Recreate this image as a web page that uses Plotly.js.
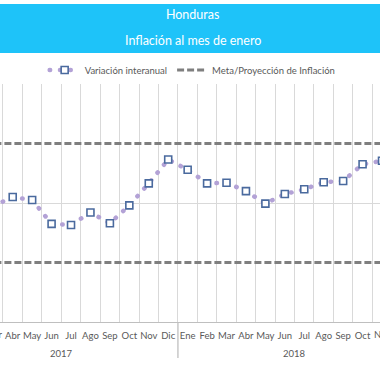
<!DOCTYPE html>
<html>
<head>
<meta charset="utf-8">
<script src="https://cdn.plot.ly/plotly-3.0.1.min.js"></script>
<style>
  html, body { margin: 0; padding: 0; background: #ffffff; }
  #chart { width: 380px; height: 380px; }
</style>
</head>
<body>
<div id="chart"></div>
<script>
// ---- data ----
const monthNames = ['Ene','Feb','Mar','Abr','May','Jun','Jul','Ago','Sep','Oct','Nov','Dic'];
const years = ['2017', '2018'];
// interannual inflation (%) (Ene/Feb 2017 and Dic 2018 are outside the view)
const inflation2017 = [null, null, 3.95, 4.10, 4.05, 3.65, 3.63, 3.84, 3.66, 3.96, 4.33, 4.73];
const inflation2018 = [4.56, 4.33, 4.34, 4.20, 3.99, 4.15, 4.23, 4.35, 4.37, 4.65, 4.71, null];
// inflation target band (upper / lower), from first to last month
const metaUpper = [5.0, 5.0];
const metaLower = [3.0, 3.0];

// ---- build ----
const labels = [];
const idx = [];
years.forEach((y, yi) => monthNames.forEach((m, mi) => { labels.push(m); idx.push(yi * 12 + mi); }));
const inflation = inflation2017.concat(inflation2018);
const metaX = [idx[0], idx[idx.length - 1]];

const FONT = 'Lato, "Liberation Sans", sans-serif';
const plotTop = 84, plotBottom = 322, plotH = plotBottom - plotTop;
const py = p => (plotBottom - p) / plotH;   // pixel row -> paper y
const xRange = [2.346, 21.896];
const px = v => (v - xRange[0]) / (xRange[1] - xRange[0]);  // data x -> paper x

const traces = [
  {
    x: metaX, y: metaUpper, type: 'scatter', mode: 'lines',
    name: 'Meta/Proyección de Inflación', legendgroup: 'meta',
    line: { color: '#7F7F7F', width: 2.8, dash: '7px,3px' },
    hoverinfo: 'skip'
  },
  {
    x: metaX, y: metaLower, type: 'scatter', mode: 'lines',
    name: 'Meta/Proyección de Inflación', legendgroup: 'meta', showlegend: false,
    line: { color: '#7F7F7F', width: 2.8, dash: '7px,3px' },
    hoverinfo: 'skip'
  },
  {
    x: idx, y: inflation, type: 'scatter', mode: 'lines+markers',
    name: 'Variación interanual',
    line: { color: '#B3A2D6', width: 4.5, dash: '0.5px,9.8px' },
    marker: { symbol: 'square', size: 7, color: '#FFFFFF', line: { color: '#4A6A9E', width: 1.6 } }
  }
];

const shapes = [
  { type: 'rect', xref: 'paper', yref: 'paper', x0: 0, x1: 1, y0: py(53), y1: py(4),
    fillcolor: '#1EC3F9', line: { width: 0 }, layer: 'below' }
];
const annotations = [
  { text: 'Inflación al mes de enero', xref: 'paper', yref: 'paper', x: 0.507, y: py(41),
    xanchor: 'center', yanchor: 'middle', showarrow: false,
    font: { family: FONT, size: 12.5, color: '#FFFFFF' } }
];
// month labels partly cut at the edges of the view
idx.forEach((v, i) => {
  if ((v < xRange[0] && v > xRange[0] - 1) || (v > xRange[1] && v < xRange[1] + 1)) {
    annotations.push({ text: labels[i], xref: 'paper', yref: 'paper', x: px(v), y: py(334.5),
      xanchor: 'center', yanchor: 'middle', showarrow: false,
      font: { family: FONT, size: 9.5, color: '#595959' } });
  }
});
// year labels and separators
years.forEach((y, yi) => {
  const first = yi * 12, last = yi * 12 + 11;
  annotations.push({ text: y, xref: 'x', yref: 'paper', x: (first + last) / 2, y: py(353),
    xanchor: 'center', yanchor: 'middle', showarrow: false,
    font: { family: FONT, size: 9.5, color: '#595959' } });
  if (yi > 0) {
    shapes.push({ type: 'line', xref: 'x', yref: 'paper', x0: first - 0.5, x1: first - 0.5,
      y0: 0, y1: py(358), line: { color: '#BFBFBF', width: 1.3 } });
  }
});

const layout = {
  width: 380, height: 380,
  margin: { l: 0, r: 0, t: plotTop, b: 380 - plotBottom, pad: 0 },
  paper_bgcolor: '#FFFFFF', plot_bgcolor: '#FFFFFF',
  title: { text: 'Honduras', x: 0.507, xanchor: 'center', xref: 'container',
    y: 1 - 15 / 380, yanchor: 'middle', yref: 'container',
    font: { family: FONT, size: 12.5, color: '#FFFFFF' } },
  showlegend: true,
  legend: { orientation: 'h', x: 0.507, xanchor: 'center', y: py(70), yanchor: 'middle',
    traceorder: 'reversed', font: { family: FONT, size: 9.5, color: '#595959' },
    bgcolor: 'rgba(0,0,0,0)' },
  xaxis: {
    range: xRange, tickmode: 'array', tickvals: idx, ticktext: labels,
    showgrid: false, zeroline: false, showline: true, linecolor: '#BFBFBF', linewidth: 1,
    ticks: '', ticklabelstandoff: 5, tickfont: { family: FONT, size: 9.5, color: '#595959' },
    minor: { tickmode: 'linear', tick0: 0.5, dtick: 1, showgrid: true, gridcolor: '#D9D9D9', gridwidth: 1, ticks: '' },
    fixedrange: true
  },
  yaxis: {
    range: [2, 6], tickmode: 'array', tickvals: [2, 4, 6], showticklabels: false,
    showgrid: true, gridcolor: '#D9D9D9', gridwidth: 1, zeroline: false, showline: false, ticks: '',
    fixedrange: true
  },
  shapes: shapes,
  annotations: annotations
};

Plotly.newPlot('chart', traces, layout, { displayModeBar: false, staticPlot: true }).then(gd => {
  gd.querySelectorAll('path.js-line').forEach(p => {
    if ((p.style.strokeDasharray || '').indexOf('0.5') === 0) p.style.strokeLinecap = 'round';
  });
});
</script>
</body>
</html>
